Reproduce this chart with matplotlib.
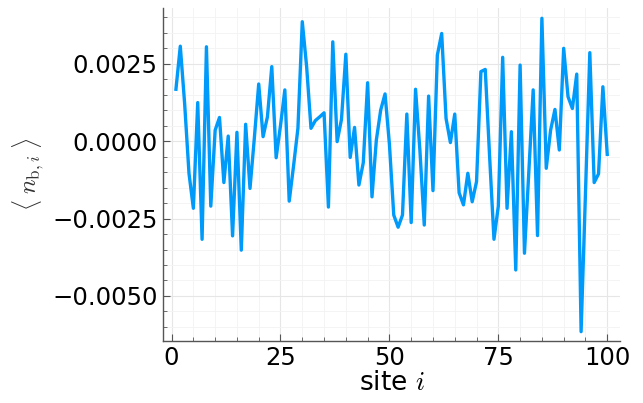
import matplotlib
matplotlib.use("Agg")
import matplotlib.pyplot as plt
from matplotlib.ticker import MultipleLocator, FuncFormatter

# <n_b,i> per site (units of 1e-3)
sites = list(range(1, 101))
n_b = [
    1.67, 3.06, 1.20, -1.05, -2.17, 1.24, -3.17, 3.04, -2.10, 0.35,
    0.76, -1.34, 0.16, -3.06, 0.28, -3.52, 0.54, -1.53, 0.10, 1.84,
    0.14, 0.78, 2.40, -0.54, 0.50, 1.65, -1.94, -0.80, 0.41, 3.85,
    2.40, 0.41, 0.66, 0.78, 0.91, -2.13, 3.20, -0.02, 0.70, 2.80,
    -0.53, 0.44, -1.42, -0.70, 1.88, -1.80, 0.03, 1.00, 1.52, -0.10,
    -2.39, -2.78, -2.39, 0.87, -2.63, 1.67, -0.30, -2.71, 1.45, -1.60,
    2.77, 3.47, 0.73, -0.05, 0.87, -1.67, -2.06, -1.04, -1.96, -1.31,
    2.24, 2.31, -0.50, -3.17, -2.10, 2.70, -2.17, 0.30, -4.16, 2.45,
    -3.62, -1.00, 1.65, -3.05, 3.96, -0.88, 0.35, 1.02, -0.29, 2.99,
    1.43, 1.05, 2.16, -6.15, -1.70, 2.85, -1.34, -1.06, 1.75, -0.43,
]
n_b = [v * 1e-3 for v in n_b]

plt.rcParams['mathtext.fontset'] = 'cm'

fig = plt.figure(figsize=(6.43, 4.03), dpi=100)
ax = fig.add_axes([0.2535, 0.154, 0.711, 0.826])

ax.plot(sites, n_b, color='#009AFA', lw=2.4)

ax.set_xlim(-1.97, 102.97)
ax.set_ylim(-0.00645, 0.00429)

ax.xaxis.set_major_locator(MultipleLocator(25))
ax.xaxis.set_minor_locator(MultipleLocator(5))
ax.yaxis.set_major_locator(MultipleLocator(0.0025))
ax.yaxis.set_minor_locator(MultipleLocator(0.0005))
ax.yaxis.set_major_formatter(
    FuncFormatter(lambda v, p: ('%.4f' % (0.0 if abs(v) < 1e-12 else v)).replace('-', '\u2212')))

ax.grid(True, which='major', color='#e6e6e6', lw=0.8)
ax.grid(True, which='minor', color='#f3f3f3', lw=0.6)
ax.set_axisbelow(True)

for s in ['top', 'right']:
    ax.spines[s].set_visible(False)
for s in ['left', 'bottom']:
    ax.spines[s].set_color('#555555')
    ax.spines[s].set_linewidth(1.0)

ax.tick_params(which='both', direction='in', colors='#555555', labelcolor='black')
ax.tick_params(which='major', length=5, labelsize=17.5, pad=4)
ax.tick_params(which='minor', length=3)

ax.set_xlabel(r'site $i$', fontsize=19, labelpad=0)
ax.set_ylabel(r'$\langle\; n_{\mathrm{b},i} \;\rangle$', fontsize=17.5,
              color='#333333', labelpad=4)

fig.savefig('out.png', dpi=100)
